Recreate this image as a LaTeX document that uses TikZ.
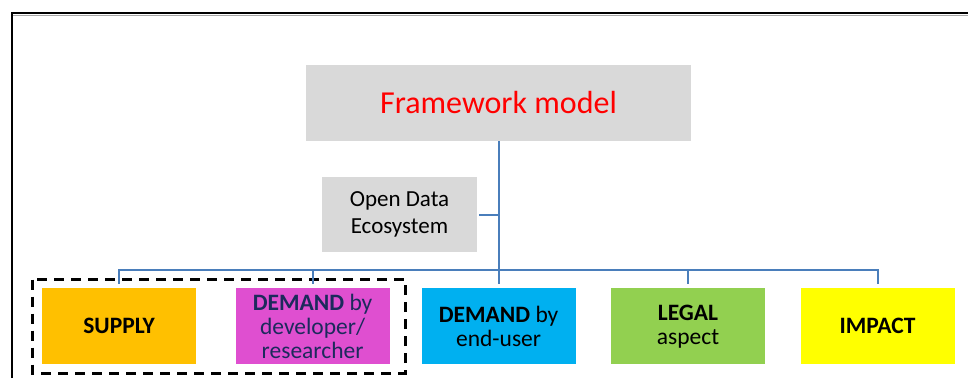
\documentclass[tikz,border=0pt]{standalone}
\usepackage{fontspec}
\setmainfont{Carlito}
\definecolor{boxgray}{HTML}{D9D9D9}
\definecolor{supplyc}{HTML}{FFC000}
\definecolor{devc}{HTML}{DF4FD0}
\definecolor{devtext}{HTML}{1C2A5C}
\definecolor{endc}{HTML}{00B0F0}
\definecolor{legalc}{HTML}{92D050}
\definecolor{impactc}{HTML}{FFFF00}
\definecolor{connc}{HTML}{4A7EBB}
\tikzset{
  box/.style={inner sep=0pt, align=center, minimum width=153.8pt, minimum height=76pt,
    font=\fontsize{23.5}{24}\selectfont},
  conn/.style={draw=connc, line width=2pt},
}
\begin{document}
\begin{tikzpicture}[x=1pt,y=-1pt]
\useasboundingbox (0,0) rectangle (968,378);
% outer frame
\draw[gray!70, line width=1pt] (13,15.5) -- (968,15.5);
\draw[black, line width=2pt] (12.3,378) -- (12.3,13.3) -- (968,13.3);
% top nodes
\node[fill=boxgray, inner sep=0pt, minimum width=385pt, minimum height=76pt,
      text=red, font=\fontsize{32}{36}\selectfont] (fm) at (498.5,103) {Framework model};
\node[fill=boxgray, inner sep=0pt, minimum width=155pt, minimum height=75pt, align=center,
      font=\fontsize{23}{26.5}\selectfont] (ode) at (399.5,214.5) {Open Data\\Ecosystem};
% bottom boxes
\node[box, fill=supplyc] (sup) at (119.2,326.3) {\textbf{SUPPLY}};
\node[box, fill=devc, text=devtext] (dev) at (312.6,326) {\textbf{DEMAND} by\\developer/\\researcher};
\node[box, fill=endc] (end) at (498.6,326.3) {\textbf{DEMAND} by\\end-user};
\node[box, fill=legalc] (leg) at (688,326.3) {\textbf{LEGAL}\\aspect};
\node[box, fill=impactc] (imp) at (877.6,326.3) {\textbf{IMPACT}};
% dashed group
\draw[line width=3pt, dash pattern=on 10pt off 7pt] (32.5,279.5) rectangle (405,373);
% connectors
\coordinate (bus) at (fm.south |- 0,270);
\draw[conn] (fm.south) -- (bus);
\draw[conn, shorten <=2pt] (ode.east) -- (ode.east -| fm.south);
\foreach \n in {sup,dev,end,leg,imp}{
  \draw[conn, shorten >=4pt] (bus) -| (\n.north);
}
\end{tikzpicture}
\end{document}
